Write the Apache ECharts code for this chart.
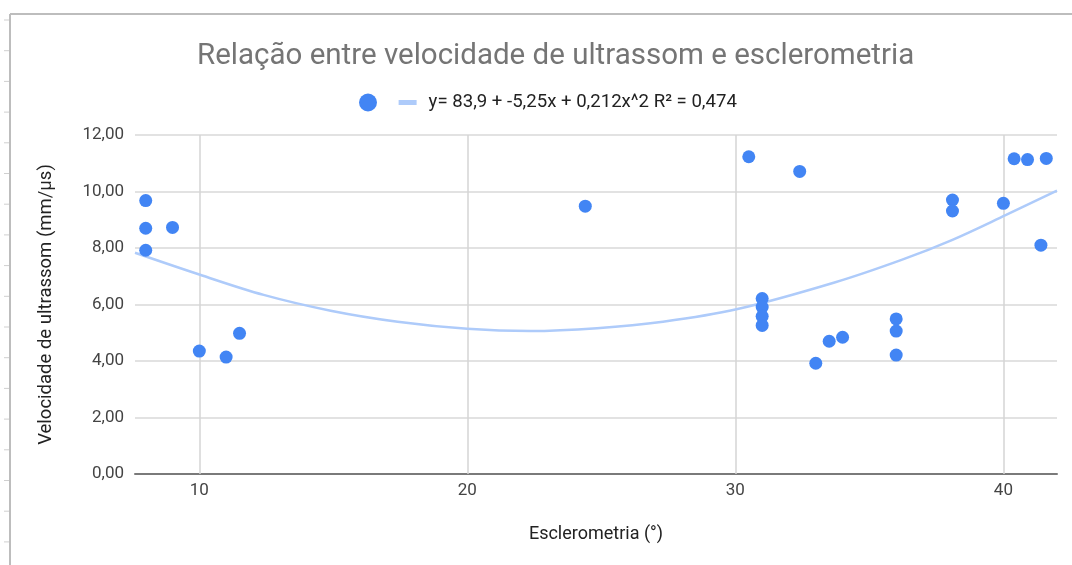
<!DOCTYPE html>
<html>
<head>
<meta charset="utf-8">
<script src="https://cdn.jsdelivr.net/npm/echarts@6/dist/echarts.min.js"></script>
<style>
html,body{margin:0;padding:0;background:#fff;}
#chart{width:1072px;height:565px;}
</style>
</head>
<body>
<div id="chart"></div>
<script>
// Data
const titleText = 'Relação entre velocidade de ultrassom e esclerometria';
const trendLabel = 'y= 83,9 + -5,25x + 0,212x^2 R² = 0,474';
const xAxisName = 'Esclerometria (°)';
const yAxisName = 'Velocidade de ultrassom (mm/µs)';

const escl = [8, 8, 8, 9, 10, 11, 11.5, 24.4, 30.5, 31, 31, 31, 31, 32.4, 33, 33.5, 34, 36, 36, 36, 38.1, 38.1, 40, 40.4, 40.9, 41.4, 41.6];
const veloc = [9.68, 8.70, 7.92, 8.73, 4.35, 4.14, 4.98, 9.48, 11.23, 6.21, 5.91, 5.58, 5.26, 10.71, 3.92, 4.70, 4.84, 5.49, 5.06, 4.21, 9.70, 9.31, 9.58, 11.16, 11.13, 8.10, 11.17];

// trend curve
const trendX = [7.6, 10, 12.4, 14.9, 17.4, 20, 22.35, 24.84, 27.3, 30.04, 33.7, 36.2, 38.1, 40.1, 42];
const trendY = [7.83, 7.06, 6.34, 5.78, 5.39, 5.14, 5.06, 5.16, 5.39, 5.83, 6.78, 7.58, 8.29, 9.17, 10.03];

const xTicks = [10, 20, 30, 40];
const yTicks = [0, 2, 4, 6, 8, 10, 12];

const pts = escl.map((x, i) => [x, veloc[i]]);
const trend = trendX.map((x, i) => [x, trendY[i]]);

const FONT = 'Roboto, "Liberation Sans", Arial, sans-serif';

const leftTicks = [];
for (let k = 0; k < 18; k++) {
  const y = 20 + k * 30.7;
  leftTicks.push({type: 'line', shape: {x1: 4, y1: y, x2: 9, y2: y}, style: {stroke: '#cfcfcf', lineWidth: 1}, silent: true});
}

const chart = echarts.init(document.getElementById('chart'), null, {renderer: 'canvas'});
chart.setOption({
  backgroundColor: '#fff',
  animation: false,
  title: {
    text: titleText,
    left: 192,
    top: 37,
    textStyle: {fontFamily: FONT, fontSize: 29.5, fontWeight: 'normal', color: '#757575'}
  },
  legend: {
    left: 354,
    top: 88,
    itemGap: 12,
    itemWidth: 18,
    itemHeight: 18,
    selectedMode: false,
    textStyle: {fontFamily: FONT, fontSize: 18.6, color: '#222'},
    data: [
      {name: ' ', icon: 'circle', itemStyle: {color: '#4285f4'}},
      {name: trendLabel, icon: 'path://M0,0h18v5h-18z', itemStyle: {color: '#aecbfa'}, textStyle: {padding: [0, 0, 0, 7]}}
    ]
  },
  grid: {left: 135, right: 15, top: 135, bottom: 91, containLabel: false},
  xAxis: {
    type: 'value',
    min: 7.6,
    max: 42,
    name: xAxisName,
    nameLocation: 'middle',
    nameGap: 51,
    nameTextStyle: {fontFamily: FONT, fontSize: 18, color: '#222'},
    axisLine: {show: true, onZero: false, lineStyle: {color: '#7a7a7a', width: 2}},
    axisTick: {show: false},
    axisLabel: {
      fontFamily: FONT, fontSize: 17, color: '#444', margin: 8,
      customValues: xTicks,
      formatter: v => String(v)
    },
    splitLine: {show: false}
  },
  yAxis: {
    type: 'value',
    min: 0,
    max: 12,
    interval: 2,
    name: yAxisName,
    nameLocation: 'middle',
    nameGap: 79,
    nameRotate: 90,
    nameTextStyle: {fontFamily: FONT, fontSize: 18.5, color: '#222'},
    axisLine: {show: false},
    axisTick: {show: false},
    axisLabel: {
      fontFamily: FONT, fontSize: 17, color: '#444', margin: 11,
      formatter: v => (yTicks.indexOf(v) >= 0 ? v.toFixed(2).replace('.', ',') : '')
    },
    splitLine: {show: true, lineStyle: {color: '#d9d9d9', width: 1.5}}
  },
  graphic: [
    {type: 'line', shape: {x1: 10, y1: 14, x2: 1072, y2: 14}, style: {stroke: '#bdbdbd', lineWidth: 2}, silent: true},
    {type: 'line', shape: {x1: 10, y1: 14, x2: 10, y2: 565}, style: {stroke: '#bdbdbd', lineWidth: 2}, silent: true}
  ].concat(leftTicks),
  series: [
    {
      name: trendLabel,
      type: 'line',
      data: trend,
      smooth: 0.35,
      showSymbol: false,
      symbol: 'none',
      lineStyle: {color: '#aecbfa', width: 2.5},
      itemStyle: {color: '#aecbfa'},
      z: 2,
      markLine: {
        silent: true,
        symbol: 'none',
        label: {show: false},
        lineStyle: {color: '#d4d4d4', width: 1.5, type: 'solid'},
        data: xTicks.map(v => ({xAxis: v})),
        z: 1
      }
    },
    {
      name: ' ',
      type: 'scatter',
      data: pts,
      symbolSize: 13,
      itemStyle: {color: '#4285f4', opacity: 1},
      z: 3
    }
  ]
});
</script>
</body>
</html>
